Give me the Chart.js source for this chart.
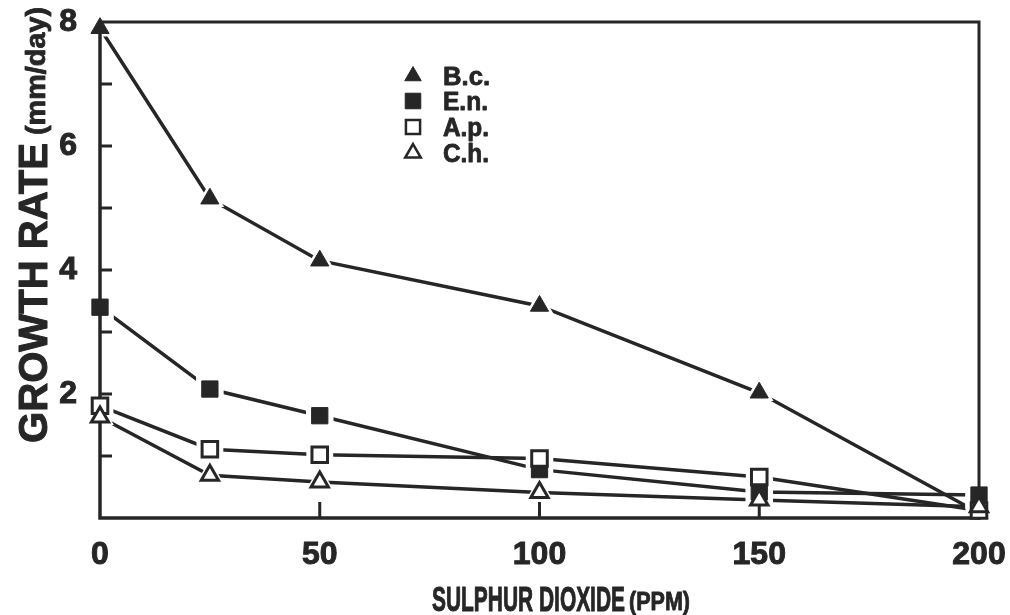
<!DOCTYPE html>
<html><head><meta charset="utf-8">
<script src="https://cdn.jsdelivr.net/npm/chart.js"></script>
<style>html,body{margin:0;padding:0;background:#fff;}#c{display:block;}</style>
</head><body>
<canvas id="c" width="1010" height="615"></canvas>
<script>
// ---- data ----
const sulphurPPM = [0, 25, 50, 100, 150, 200];
const bcGrowth = [7.9, 5.15, 4.15, 3.42, 2.02, 0.08];
const enGrowth = [3.4, 2.08, 1.65, 0.78, 0.42, 0.37];
const apGrowth = [1.81, 1.11, 1.02, 0.96, 0.66, 0.12];
const chGrowth = [1.63, 0.69, 0.58, 0.41, 0.29, 0.18];
const seriesNames = ['B.c.', 'E.n.', 'A.p.', 'C.h.'];
const xTickValues = [0, 50, 100, 150, 200];
const yTickValues = [2, 4, 6, 8];
const yMinorTicks = [1, 3, 5, 7];
const xTitle = 'SULPHUR DIOXIDE';
const xUnit = '(PPM)';
const yTitle = 'GROWTH RATE';
const yUnit = '(mm/day)';

const INK = '#262626';
const FONT = '"Liberation Sans", Arial, Helvetica, sans-serif';

function pts(vals) { return sulphurPPM.map((x, i) => ({ x: x, y: vals[i] })); }

const styles = [
  { pointStyle: 'triangle', r: 10.5, bg: INK, lw: 1, halo: 6, lr: 9.5 },
  { pointStyle: 'rect', r: 11.5, bg: INK, lw: 1, halo: 8, lr: 11 },
  { pointStyle: 'rect', r: 11, bg: '#ffffff', lw: 3, halo: 8, lr: 10 },
  { pointStyle: 'triangle', r: 10, bg: '#ffffff', lw: 3, halo: 6, lr: 9 }
];
const seriesValues = [bcGrowth, enGrowth, apGrowth, chGrowth];
const legendTextWidths = [47, 45, 46, 46];

function marker(ctx, style, x, y, r, fill, stroke, lw) {
  ctx.beginPath();
  if (style === 'triangle') {
    let rad = 0;
    ctx.moveTo(x + Math.sin(rad) * r, y - Math.cos(rad) * r);
    rad += 2 * Math.PI / 3;
    ctx.lineTo(x + Math.sin(rad) * r, y - Math.cos(rad) * r);
    rad += 2 * Math.PI / 3;
    ctx.lineTo(x + Math.sin(rad) * r, y - Math.cos(rad) * r);
    ctx.closePath();
  } else {
    const s = r * Math.SQRT1_2;
    ctx.rect(x - s, y - s, 2 * s, 2 * s);
  }
  if (fill) { ctx.fillStyle = fill; ctx.fill(); }
  if (lw > 0) { ctx.lineWidth = lw; ctx.strokeStyle = stroke; ctx.lineJoin = 'miter'; ctx.stroke(); }
}

function fitText(ctx, text, x, y, px, target, stroke) {
  ctx.font = 'bold ' + px + 'px ' + FONT;
  const w = ctx.measureText(text).width;
  ctx.save();
  ctx.translate(x, y);
  ctx.scale(target / w, 1);
  ctx.fillText(text, 0, 0);
  if (stroke) { ctx.lineWidth = stroke; ctx.strokeStyle = INK; ctx.lineJoin = 'round'; ctx.strokeText(text, 0, 0); }
  ctx.restore();
}

const overlay = {
  id: 'overlay',
  afterDatasetsDraw(chart) {
    const ctx = chart.ctx, a = chart.chartArea;
    const xs = chart.scales.x, ys = chart.scales.y;
    ctx.save();
    chart.data.datasets.forEach((ds, i) => {
      const st = styles[i];
      chart.getDatasetMeta(i).data.forEach(el => {
        marker(ctx, st.pointStyle, el.x, el.y, st.r + st.halo, '#ffffff', null, 0);
      });
    });
    ctx.strokeStyle = INK;
    ctx.lineCap = 'square';
    ctx.lineWidth = 3.5;
    ctx.beginPath();
    ctx.moveTo(a.left, a.top); ctx.lineTo(a.left, a.bottom); ctx.lineTo(a.right, a.bottom);
    ctx.stroke();
    ctx.lineWidth = 3;
    ctx.beginPath();
    ctx.moveTo(a.left, a.top); ctx.lineTo(a.right, a.top); ctx.lineTo(a.right, a.bottom);
    ctx.stroke();
    ctx.lineCap = 'butt';
    ctx.lineWidth = 3;
    ctx.beginPath();
    xTickValues.forEach(v => {
      if (v === xs.min || v === xs.max) return;
      const px = xs.getPixelForValue(v);
      ctx.moveTo(px, a.bottom); ctx.lineTo(px, a.bottom - 16);
    });
    yTickValues.concat(yMinorTicks).forEach(v => {
      if (v === ys.max) return;
      const py = ys.getPixelForValue(v);
      ctx.moveTo(a.left, py); ctx.lineTo(a.left + 12, py);
    });
    ctx.stroke();
    chart.data.datasets.forEach((ds, i) => {
      const st = styles[i];
      chart.getDatasetMeta(i).data.forEach(el => {
        marker(ctx, st.pointStyle, el.x, el.y, st.r, st.bg, INK, st.lw);
      });
    });
    ctx.restore();
  },
  afterDraw(chart) {
    const ctx = chart.ctx;
    ctx.save();
    ctx.fillStyle = INK;
    ctx.textBaseline = 'alphabetic';
    ctx.textAlign = 'left';
    fitText(ctx, xTitle, 432, 611, 35, 193, 1);
    fitText(ctx, xUnit, 629, 610, 25, 61, 0.8);
    ctx.save();
    ctx.translate(47, 443);
    ctx.rotate(-Math.PI / 2);
    fitText(ctx, yTitle, 0, 0, 40, 300, 1);
    fitText(ctx, yUnit, 308, -2, 27, 128, 0.8);
    ctx.restore();
    const rowsY = [76, 101, 127, 153];
    seriesNames.forEach((name, i) => {
      const st = styles[i];
      const y = rowsY[i];
      marker(ctx, st.pointStyle, 413, y, st.lr, st.bg, INK, st.lw > 1 ? 2.5 : 1);
      ctx.fillStyle = INK;
      fitText(ctx, name, 443, y + 9, 25, legendTextWidths[i], 0.8);
    });
    ctx.restore();
  }
};

const datasets = seriesNames.map((name, i) => ({
  label: name,
  data: pts(seriesValues[i]),
  borderColor: INK,
  borderWidth: 3.5,
  tension: 0,
  fill: false,
  clip: false,
  pointStyle: styles[i].pointStyle,
  pointRadius: styles[i].r,
  pointBackgroundColor: styles[i].bg,
  pointBorderColor: INK,
  pointBorderWidth: styles[i].lw
}));

const tickFont = { family: FONT, size: 32, weight: 'bold' };

new Chart(document.getElementById('c'), {
  type: 'line',
  data: { datasets: datasets },
  options: {
    responsive: false,
    animation: false,
    devicePixelRatio: 1,
    layout: { padding: { top: 22, right: 31, left: 0, bottom: 0 } },
    plugins: { legend: { display: false }, tooltip: { enabled: false } },
    scales: {
      x: {
        type: 'linear', min: 0, max: 200,
        afterBuildTicks(s) { s.ticks = xTickValues.map(v => ({ value: v })); },
        ticks: { color: INK, font: tickFont, padding: 18, maxRotation: 0, autoSkip: false, textStrokeColor: INK, textStrokeWidth: 1 },
        grid: { display: false, drawTicks: false },
        border: { display: false },
        afterFit(s) { s.height = 97; s.paddingLeft = 0; s.paddingRight = 0; }
      },
      y: {
        type: 'linear', min: 0, max: 8,
        afterBuildTicks(s) { s.ticks = yTickValues.map(v => ({ value: v })); },
        ticks: { color: INK, font: tickFont, padding: 23, autoSkip: false, textStrokeColor: INK, textStrokeWidth: 1 },
        grid: { display: false, drawTicks: false },
        border: { display: false },
        afterFit(s) { s.width = 100; s.paddingTop = 0; s.paddingBottom = 0; }
      }
    }
  },
  plugins: [overlay]
});
</script>
</body></html>
